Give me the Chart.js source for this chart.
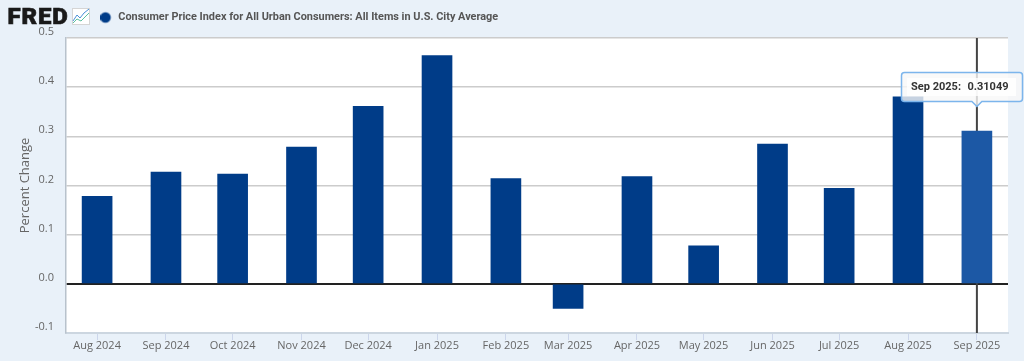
<!DOCTYPE html>
<html><head><meta charset="utf-8">
<style>html,body{margin:0;padding:0;background:#e9f1f9;overflow:hidden}#w{position:relative;width:1024px;height:361px}</style>
<script src="https://cdn.jsdelivr.net/npm/chart.js@4"></script>
</head><body><div id="w"><canvas id="c" width="1024" height="361"></canvas></div>
<script>
const categories = ["Aug 2024","Sep 2024","Oct 2024","Nov 2024","Dec 2024","Jan 2025","Feb 2025","Mar 2025","Apr 2025","May 2025","Jun 2025","Jul 2025","Aug 2025","Sep 2025"];
const values = [0.178,0.227,0.223,0.278,0.361,0.464,0.214,-0.05,0.218,0.077,0.284,0.194,0.38,0.31049];
const yTicks = [-0.1,0,0.1,0.2,0.3,0.4,0.5];
const seriesName = "Consumer Price Index for All Urban Consumers: All Items in U.S. City Average";
const yTitle = "Percent Change";
const highlightIndex = 13;
const highlightLabel = "Sep 2025:";
const highlightValue = "0.31049";

const DAY = 86400000;
const days = categories.map(c => Date.parse("1 " + c + " UTC") / DAY);
const points = days.map((d,i) => ({x:d, y:values[i]}));
const tickFont = {family:"'Open Sans'", size:11};
const gray = "#666666";
const barColor = "#003c88";

const dot = document.createElement("canvas");
dot.width = dot.height = 14;
(g => { g.fillStyle = barColor; g.beginPath(); g.arc(5,7,5.3,0,Math.PI*2); g.fill(); })(dot.getContext("2d"));

const chrome = {
  id:"chrome",
  afterLayout(chart){ const l = chart.legend; l.left += 93; l.right += 93; l.top = 3; },
  beforeDraw(chart){
    const a = chart.chartArea, ctx = chart.ctx;
    ctx.save(); ctx.fillStyle = "#fff"; ctx.fillRect(a.left,a.top,a.right-a.left,a.bottom-a.top); ctx.restore();
  },
  beforeDatasetsDraw(chart){
    const ctx = chart.ctx, a = chart.chartArea;
    const x = chart.scales.x.getPixelForValue(days[highlightIndex]);
    ctx.save(); ctx.strokeStyle = "#444"; ctx.lineWidth = 2;
    ctx.beginPath(); ctx.moveTo(x,a.top); ctx.lineTo(x,a.bottom); ctx.stroke(); ctx.restore();
  },
  afterDraw(chart){
    const ctx = chart.ctx;
    const x = chart.scales.x.getPixelForValue(days[highlightIndex]);
    ctx.save();
    // logo
    ctx.save();
    ctx.translate(7.5,24); ctx.scale(1.09,1);
    ctx.fillStyle = "#1a1a1a"; ctx.strokeStyle = "#1a1a1a"; ctx.lineWidth = 0.6;
    ctx.font = "900 22px Roboto"; ctx.textBaseline = "alphabetic"; ctx.textAlign = "left";
    ctx.letterSpacing = "0.8px";
    ctx.fillText("FRED", 0, 0); ctx.strokeText("FRED", 0, 0);
    ctx.restore();
    ctx.fillStyle = "#fff"; ctx.strokeStyle = "#d5d5d5"; ctx.lineWidth = 1;
    ctx.fillRect(72.5,8.5,17,16); ctx.strokeRect(72.5,8.5,17,16);
    ctx.strokeStyle = "#4a90d9"; ctx.beginPath(); ctx.moveTo(73,21); ctx.lineTo(77,15); ctx.lineTo(80,18); ctx.lineTo(84,13); ctx.lineTo(89,9); ctx.stroke();
    ctx.strokeStyle = "#5cc0a0"; ctx.beginPath(); ctx.moveTo(73,23); ctx.lineTo(77,19); ctx.lineTo(81,21); ctx.lineTo(85,17); ctx.lineTo(89,13); ctx.stroke();
    // tooltip
    const L=901.5,R=1022.5,T=72.5,B=101.5,r=3;
    ctx.beginPath();
    ctx.moveTo(L+r,T); ctx.lineTo(R-r,T); ctx.arcTo(R,T,R,T+r,r); ctx.lineTo(R,B-r); ctx.arcTo(R,B,R-r,B,r);
    ctx.lineTo(x+5,B); ctx.lineTo(x,B+5); ctx.lineTo(x-5,B); ctx.lineTo(L+r,B); ctx.arcTo(L,B,L,B-r,r); ctx.lineTo(L,T+r); ctx.arcTo(L,T,L+r,T,r); ctx.closePath();
    ctx.fillStyle = "rgba(247,247,247,0.8)"; ctx.fill();
    ctx.strokeStyle = "#7cb5ec"; ctx.lineWidth = 1.5; ctx.stroke();
    ctx.fillStyle = "rgba(255,255,255,0.8)"; ctx.fillRect(907,78,109,18);
    ctx.fillStyle = "#333"; ctx.font = "bold 11px Roboto"; ctx.textBaseline = "middle"; ctx.textAlign = "left";
    ctx.fillText(highlightLabel, 911, 87);
    ctx.fillText(highlightValue, 967.5, 87);
    ctx.restore();
  }
};

new Chart(document.getElementById("c"), {
  type:"bar",
  data:{datasets:[{label:seriesName, data:points, barThickness:30,
    backgroundColor:c => c.dataIndex===highlightIndex ? "#1c58a5" : barColor, borderWidth:0, hoverBackgroundColor:"#1c58a5"}]},
  plugins:[chrome],
  options:{
    responsive:false, animation:false, events:[],
    layout:{padding:{left:0,right:16,top:8,bottom:0}},
    plugins:{
      tooltip:{enabled:false},
      legend:{display:true, position:"top", align:"start",
        labels:{usePointStyle:true, pointStyle:dot, boxWidth:11, boxHeight:10, color:"#555", padding:9,
          font:{family:"Roboto", weight:"bold", size:10.9}}}
    },
    scales:{
      x:{type:"linear", offset:false,
        min:days[0]-14, max:days[days.length-1]+14,
        afterBuildTicks(s){ s.ticks = days.map(v => ({value:v})); },
        afterFit(s){ s.height = 28; },
        grid:{display:true, offset:false, drawOnChartArea:false, drawTicks:true, tickLength:7, color:"#ccd6eb", lineWidth:1},
        border:{display:true, color:"#ccd6e0", width:2},
        ticks:{autoSkip:false, maxRotation:0, minRotation:0, padding:-1, color:gray, font:tickFont,
          callback:v => categories[days.indexOf(v)]}
      },
      y:{min:-0.1,max:0.5,
        afterBuildTicks(s){ s.ticks = yTicks.map(v => ({value:v})); },
        afterFit(s){ s.width = 66; },
        grid:{drawTicks:false, color:c => c.tick.value===0 ? "#222" : "#cccccc", lineWidth:c => c.tick.value===0 ? 2 : 1.5},
        border:{display:true, color:"#b8c2cc", width:1.5},
        title:{display:true, text:yTitle, color:gray, font:{family:"'Open Sans'", size:13}, padding:{top:17,bottom:0}},
        ticks:{padding:12, labelOffset:-6, color:gray, font:tickFont, callback:v => v.toFixed(1)}
      }
    }
  }
});
</script></body></html>
